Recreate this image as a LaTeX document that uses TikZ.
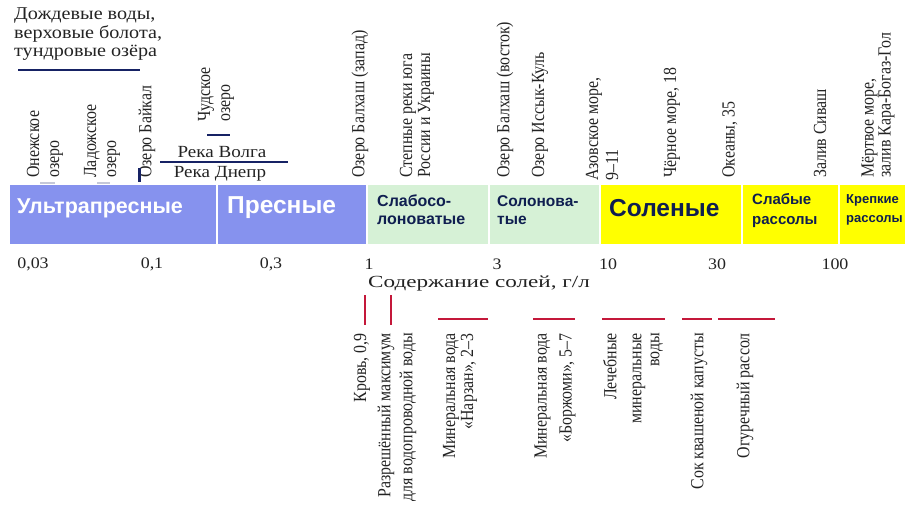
\documentclass[tikz,border=0pt]{standalone}
\usepackage{fontspec}
\setmainfont{Liberation Serif}
\newfontfamily\wideserif{Liberation Serif}[FakeStretch=1.12]
\newfontfamily\axisserif{Liberation Serif}[FakeStretch=1.36]
\newfontfamily\condserif{Liberation Serif}[FakeStretch=0.86]
\newfontfamily\bandsans{Liberation Sans}
\usepackage{tikz}
\usetikzlibrary{positioning}
\definecolor{slBlue}{RGB}{134,146,238}
\definecolor{slGreen}{RGB}{214,241,214}
\definecolor{slYellow}{RGB}{255,255,0}
\definecolor{slNavy}{RGB}{22,34,100}
\definecolor{slText}{RGB}{15,30,80}
\definecolor{slRed}{RGB}{196,24,58}
\definecolor{slInk}{RGB}{35,35,35}
\tikzset{
  slSeg/.style={fill=#1, minimum height=59pt, inner sep=0pt, outer sep=0pt,
                anchor=north west},
  slBand/.style 2 args={anchor=west, align=left, inner sep=0pt,
                 font=\bandsans\bfseries\fontsize{#1}{#2}\selectfont},
  slTop/.style={rotate=90, anchor=west, align=left, inner sep=0pt, text=slInk,
                font=\condserif\fontsize{18.5}{18}\selectfont},
  slBottom/.style={rotate=90, anchor=east, align=right, inner sep=0pt, text=slInk,
                   font=\condserif\fontsize{18.5}{18}\selectfont},
  slTick/.style={inner sep=0pt, text=slInk, font=\wideserif\fontsize{16}{18}\selectfont},
  slWide/.style={inner sep=0pt, text=slInk, align=left,
                 font=\wideserif\fontsize{17}{18.5}\selectfont},
  slNavyMark/.style={draw=slNavy, line width=2.2pt},
  slFaint/.style={draw=slNavy!25, line width=1.5pt},
  slRedMark/.style={draw=slRed, line width=2.5pt}
}
\begin{document}
\begin{tikzpicture}[x=1pt,y=-1pt]
  \useasboundingbox (0,0) rectangle (905,508);

  % salinity band
  \begin{scope}
  \clip (0,0) rectangle (905,508);
  \node[slSeg=slBlue, minimum width=206pt] (ultra) at (10,185) {};
  \node[slSeg=slBlue, minimum width=148pt] (fresh) at (218,185) {};
  \node[slSeg=slGreen, minimum width=120pt] (brackA) at (368,185) {};
  \node[slSeg=slGreen, minimum width=109pt] (brackB) at (490,185) {};
  \node[slSeg=slYellow, minimum width=140pt] (saline) at (601,185) {};
  \node[slSeg=slYellow, minimum width=95pt] (brineA) at (743,185) {};
  \node[slSeg=slYellow, minimum width=70pt] (brineB) at (840,185) {};

  \node[slBand={21.5}{22}, text=white] (ultraT) at (17,208) {Ультрапресные};
  \node[slBand={24.5}{25}, text=white] (freshT) at (227,208) {Пресные};
  \node[slBand={16}{18}, text=slText] (brackAT) at (377,210) {Слабосо-\\лоноватые};
  \node[slBand={15.5}{18}, text=slText] (brackBT) at (497,210) {Солонова-\\тые};
  \node[slBand={24.5}{25}, text=slText] (salineT) at (609,208) {Соленые};
  \node[slBand={15}{20}, text=slText] (brineAT) at (752,211) {Слабые\\рассолы};
  \node[slBand={13}{19}, text=slText] (brineBT) at (846,210) {Крепкие\\рассолы};
  \end{scope}

  % scale
  \node[slTick] (t003) at (33,264) {0,03};
  \node[slTick] (t01) at (152,264) {0,1};
  \node[slTick] (t03) at (271,264) {0,3};
  \node[slTick] (t1) at (369,264) {1};
  \node[slTick] (t3) at (497,264) {3};
  \node[slTick] (t10) at (608,264) {10};
  \node[slTick] (t30) at (717,264) {30};
  \node[slTick] (t100) at (835,264) {100};
  \node[slTick, font=\axisserif\fontsize{17}{18}\selectfont] (axis) at (479,283)
       {Содержание солей, г/л};

  % natural waters
  \node[slWide, anchor=north west, font=\wideserif\fontsize{18}{18.5}\selectfont]
       (rain) at (14,8) {Дождевые воды,\\верховые болота,\\тундровые озёра};
  \draw[slNavyMark] (18,70) -- (140,70);
  \node[slTop, font=\condserif\fontsize{18.5}{20}\selectfont] (onega) at (45,178)
       {Онежское\\озеро};
  \draw[slFaint] (40,183) -- (55,183);
  \node[slTop, font=\condserif\fontsize{18.5}{20}\selectfont] (ladoga) at (102,178)
       {Ладожское\\озеро};
  \draw[slFaint] (97,183) -- (110,183);
  \node[slTop] (baikal) at (147,178) {Озеро Байкал};
  \draw[slNavyMark, line width=3pt] (139,168) -- (139,182);
  \node[slTop, font=\condserif\fontsize{18.5}{20}\selectfont] (chud) at (216,122)
       {Чудское\\озеро};
  \draw[slNavyMark] (207,135) -- (230,135);
  \node[slWide] (volga) at (222,152) {Река Волга};
  \draw[slNavyMark] (160,162) -- (288,162);
  \node[slWide] (dnepr) at (220,174) {Река Днепр};
  \node[slTop] (balkhW) at (360,178) {Озеро Балхаш (запад)};
  \node[slTop] (steppe) at (417,178) {Степные реки юга\\России и Украины};
  \node[slTop] (balkhE) at (505,178) {Озеро Балхаш (восток)};
  \node[slTop] (issyk) at (540,178) {Озеро Иссык-Куль};
  \node[slTop, font=\condserif\fontsize{18.5}{20}\selectfont] (azov) at (602,181)
       {Азовское море,\\9–11};
  \node[slTop] (black) at (672,178) {Чёрное море, 18};
  \node[slTop] (ocean) at (730,178) {Океаны, 35};
  \node[slTop] (sivash) at (820,178) {Залив Сиваш};
  \node[slTop, font=\condserif\fontsize{18.5}{15.5}\selectfont] (dead) at (878,178)
       {Мёртвое море,\\залив Кара-Богаз-Гол};

  % other liquids
  \draw[slRedMark] (365,295) -- (365,325);
  \node[slBottom] (blood) at (362,333) {Кровь, 0,9};
  \draw[slRedMark] (391,295) -- (391,325);
  \node[slBottom, font=\condserif\fontsize{18.5}{22}\selectfont] (tapmax) at (397,333)
       {Разрешённый максимум\\для водопроводной воды};
  \draw[slRedMark] (438,319) -- (488,319);
  \node[slBottom] (narzan) at (460,333) {Минеральная вода\\«Нарзан», 2–3};
  \draw[slRedMark] (533,319) -- (575,319);
  \node[slBottom] (borjomi) at (555,333) {Минеральная вода\\[7pt]«Боржоми», 5–7};
  \draw[slRedMark] (602,319) -- (665,319);
  \node[slBottom] (healing) at (633,333) {Лечебные\\[7pt]минеральные\\воды};
  \draw[slRedMark] (682,319) -- (712,319);
  \node[slBottom] (kraut) at (699,333) {Сок квашеной капусты};
  \draw[slRedMark] (718,319) -- (775,319);
  \node[slBottom] (pickle) at (745,333) {Огуречный рассол};
\end{tikzpicture}
\end{document}
